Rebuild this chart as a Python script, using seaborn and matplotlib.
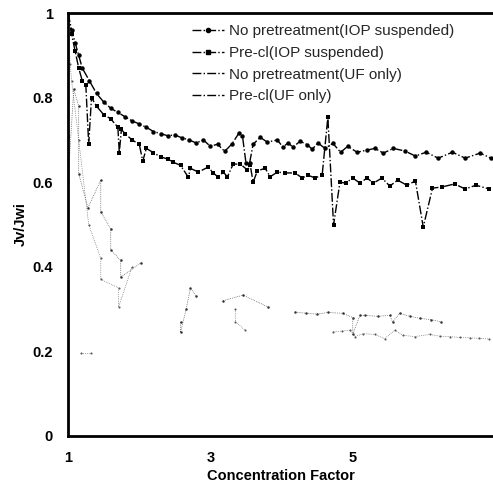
import numpy as np
import pandas as pd
import matplotlib
matplotlib.use("Agg")
import matplotlib.pyplot as plt
import seaborn as sns
from matplotlib.lines import Line2D

# ------------------------------------------------------------
# Data (Jv/Jwi vs concentration factor)
# ------------------------------------------------------------
labels = ["No pretreatment(IOP suspended)", "Pre-cl(IOP suspended)",
          "No pretreatment(UF only)", "Pre-cl(UF only)"]

# No pretreatment (IOP suspended)
cf_nop_iop = [1.00, 1.05, 1.10, 1.15, 1.20, 1.30, 1.40, 1.50, 1.60, 1.70,
              1.80, 1.90, 2.00, 2.10, 2.20, 2.30, 2.40, 2.50, 2.60, 2.70,
              2.80, 2.90, 3.00, 3.10, 3.20, 3.30, 3.40, 3.45, 3.50, 3.55,
              3.60, 3.70, 3.80, 3.94, 4.02, 4.09, 4.16, 4.26, 4.36, 4.43,
              4.51, 4.61, 4.72, 4.83, 4.93, 5.06, 5.20, 5.31, 5.43, 5.57,
              5.73, 5.88, 6.03, 6.20, 6.40, 6.58, 6.79, 6.94]
jv_nop_iop = [1.00, 0.96, 0.93, 0.90, 0.87, 0.84, 0.81, 0.79, 0.775, 0.765,
              0.755, 0.745, 0.738, 0.73, 0.72, 0.715, 0.71, 0.712, 0.705, 0.70,
              0.693, 0.70, 0.685, 0.69, 0.673, 0.69, 0.716, 0.71, 0.645, 0.645,
              0.69, 0.706, 0.695, 0.70, 0.683, 0.693, 0.683, 0.697, 0.689, 0.678,
              0.693, 0.68, 0.692, 0.671, 0.685, 0.671, 0.676, 0.68, 0.669, 0.68,
              0.674, 0.662, 0.671, 0.657, 0.671, 0.657, 0.669, 0.657]

# Pre-cl (IOP suspended)
cf_pre_iop = [1.00, 1.05, 1.10, 1.15, 1.20, 1.25, 1.29, 1.33, 1.40, 1.50,
              1.60, 1.70, 1.72, 1.75, 1.80, 1.90, 2.00, 2.05, 2.10, 2.20,
              2.30, 2.40, 2.47, 2.58, 2.69, 2.72, 2.83, 2.97, 3.04, 3.11,
              3.18, 3.24, 3.32, 3.42, 3.52, 3.56, 3.60, 3.66, 3.77, 3.84,
              3.94, 4.05, 4.19, 4.29, 4.37, 4.47, 4.57, 4.65, 4.73, 4.82,
              4.90, 5.00, 5.10, 5.20, 5.29, 5.41, 5.52, 5.63, 5.76, 5.88,
              5.99, 6.12, 6.26, 6.43, 6.58, 6.73, 6.92]
jv_pre_iop = [1.00, 0.95, 0.91, 0.87, 0.84, 0.83, 0.69, 0.80, 0.78, 0.76,
              0.75, 0.73, 0.67, 0.725, 0.715, 0.70, 0.69, 0.65, 0.68, 0.67,
              0.66, 0.655, 0.648, 0.64, 0.612, 0.633, 0.624, 0.636, 0.622, 0.612,
              0.624, 0.613, 0.643, 0.643, 0.629, 0.64, 0.60, 0.627, 0.633, 0.613,
              0.624, 0.622, 0.622, 0.61, 0.617, 0.61, 0.617, 0.754, 0.499, 0.60,
              0.598, 0.61, 0.598, 0.61, 0.598, 0.61, 0.591, 0.605, 0.593, 0.603,
              0.494, 0.586, 0.589, 0.596, 0.584, 0.593, 0.584]

# UF only runs are broken in the scan -> segment ids mark the gaps
cf_nop_uf = [1.00, 1.00, 1.00, 1.00, 1.08, 1.15, 1.15, 1.28, 1.46, 1.46,
             1.60, 1.60, 1.74, 1.74, 2.03,
             2.58, 2.58, 2.66, 2.72, 2.80,
             3.18, 3.46, 3.81,
             4.19, 4.35, 4.50, 4.65, 4.86, 5.00, 5.00, 5.10, 5.17, 5.35,
             5.52, 5.56, 5.66, 5.80, 5.95, 6.10, 6.24]
jv_nop_uf = [1.00, 0.80, 0.71, 0.60, 0.82, 0.78, 0.62, 0.54, 0.605, 0.53,
             0.49, 0.44, 0.415, 0.376, 0.41,
             0.27, 0.245, 0.30, 0.35, 0.33,
             0.32, 0.333, 0.305,
             0.293, 0.29, 0.288, 0.292, 0.29, 0.28, 0.24, 0.285, 0.285, 0.283,
             0.285, 0.27, 0.29, 0.283, 0.278, 0.275, 0.27]
seg_nop_uf = [0] * 15 + [1] * 5 + [2] * 3 + [3] * 17

cf_pre_uf = [1.18, 1.32,
             1.00, 1.03, 1.05, 1.15, 1.29, 1.46, 1.46, 1.71, 1.71, 1.90,
             3.35, 3.35, 3.49,
             4.72, 4.85, 4.96, 5.03, 5.15, 5.31, 5.45, 5.59, 5.70, 5.87,
             6.08, 6.22, 6.36, 6.50, 6.64, 6.78, 6.92]
jv_pre_uf = [0.197, 0.197,
             0.98, 0.88, 0.84, 0.70, 0.50, 0.42, 0.37, 0.35, 0.305, 0.40,
             0.30, 0.27, 0.25,
             0.246, 0.248, 0.25, 0.235, 0.242, 0.24, 0.23, 0.25, 0.238, 0.235,
             0.24, 0.236, 0.235, 0.233, 0.232, 0.231, 0.229]
seg_pre_uf = [0] * 2 + [1] * 10 + [2] * 3 + [3] * 17

sns.set_theme(style="white")
plt.rcParams["font.family"] = ["Liberation Sans", "DejaVu Sans"]

fig = plt.figure(figsize=(4.93, 4.86), dpi=100)
ax = fig.add_axes([0.138, 0.103, 0.862, 0.870])

df1 = pd.DataFrame({"cf": cf_nop_iop, "jv": jv_nop_iop})
df2 = pd.DataFrame({"cf": cf_pre_iop, "jv": jv_pre_iop})
df3 = pd.DataFrame({"cf": cf_nop_uf, "jv": jv_nop_uf, "seg": seg_nop_uf})
df4 = pd.DataFrame({"cf": cf_pre_uf, "jv": jv_pre_uf, "seg": seg_pre_uf})

sns.lineplot(data=df1, x="cf", y="jv", estimator=None, sort=False, ax=ax,
             color="black", lw=1.0, linestyle="-.", marker="o", markersize=3.2,
             markeredgewidth=0)
sns.lineplot(data=df2, x="cf", y="jv", estimator=None, sort=False, ax=ax,
             color="black", lw=1.0, linestyle="-.", marker="s", markersize=3,
             markeredgewidth=0)
sns.lineplot(data=df3, x="cf", y="jv", units="seg", estimator=None, sort=False,
             ax=ax, color="#333333", lw=0.5, linestyle=":", marker="o",
             markersize=1.8, markeredgewidth=0)
sns.lineplot(data=df4, x="cf", y="jv", units="seg", estimator=None, sort=False,
             ax=ax, color="#555555", lw=0.5, linestyle=":", marker="o",
             markersize=1.5, markeredgewidth=0)

ax.set_xlim(1, 6.97)
ax.set_ylim(0, 1)
ax.set_xticks([1, 3, 5])
ax.set_xticklabels(["1", "3", "5"])
ax.set_yticks([0, 0.2, 0.4, 0.6, 0.8, 1.0])
ax.set_yticklabels(["0", "0.2", "0.4", "0.6", "0.8", "1"])
ax.tick_params(axis="both", length=0, labelsize=10.5, pad=11, colors="black")
for t in ax.get_xticklabels() + ax.get_yticklabels():
    t.set_fontweight("bold")
ax.set_xlabel("Concentration Factor", fontsize=10.5, fontweight="bold",
              labelpad=3, color="black")
ax.set_ylabel("Jv/Jwi", fontsize=10.5, fontweight="bold", labelpad=3,
              color="black")

for side in ["left", "bottom", "top"]:
    ax.spines[side].set_color("black")
    ax.spines[side].set_linewidth(2.0)
ax.spines["right"].set_visible(False)

handles = [
    Line2D([], [], color="black", lw=1.0, ls="-.", marker="o", markersize=3),
    Line2D([], [], color="black", lw=1.0, ls="-.", marker="s", markersize=3),
    Line2D([], [], color="black", lw=1.0, ls="-."),
    Line2D([], [], color="black", lw=1.0, ls="-."),
]
ax.legend(handles, labels, loc="upper left", bbox_to_anchor=(0.27, 0.995),
          frameon=False, fontsize=11, handlelength=2.1, handletextpad=0.3,
          labelspacing=0.5, borderaxespad=0.2)

fig.savefig("out.png", dpi=100)
